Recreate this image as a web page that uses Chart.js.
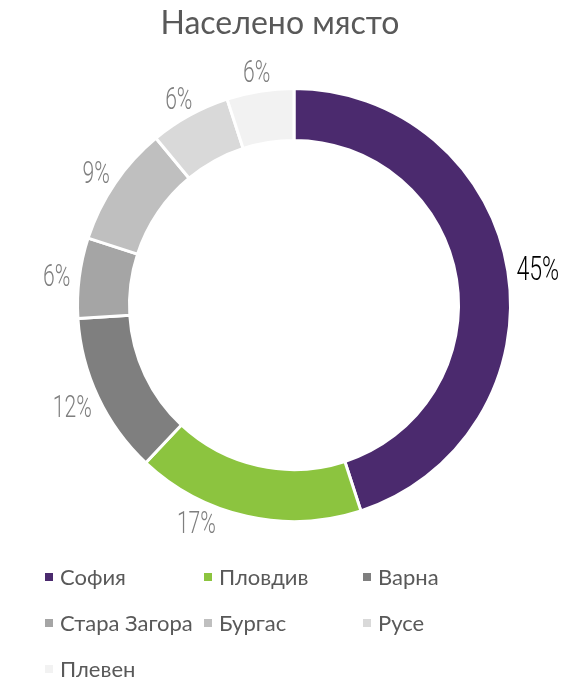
<!DOCTYPE html>
<html>
<head>
<meta charset="utf-8">
<script src="https://cdn.jsdelivr.net/npm/chart.js@4.4.0/dist/chart.umd.min.js"></script>
<style>
  html, body { margin: 0; padding: 0; background: #fff; }
  #wrap { width: 570px; height: 684px; }
</style>
</head>
<body>
<div id="wrap"><canvas id="chart"></canvas></div>
<script>
// data
const cities = ['София', 'Пловдив', 'Варна', 'Стара Загора', 'Бургас', 'Русе', 'Плевен'];
const shares = [45, 17, 12, 6, 9, 6, 5];
const pctLabels = ['45%', '17%', '12%', '6%', '9%', '6%', '6%'];
const colors = ['#4B2A6E', '#8CC43F', '#7F7F7F', '#A5A5A5', '#BFBFBF', '#D9D9D9', '#F2F2F2'];
const title = 'Населено място';

const textGrey = '#595959';
const SX = 0.68; // squeeze for the narrow percent labels

// title + legend drawn in a grid like the original
const frame = {
  id: 'frame',
  afterDraw(chart) {
    const ctx = chart.ctx;
    ctx.save();
    ctx.fillStyle = textGrey;
    ctx.font = '32px Lato';
    ctx.textAlign = 'center';
    ctx.textBaseline = 'alphabetic';
    ctx.fillText(title, 280, 34);

    ctx.font = '22px Lato';
    ctx.textAlign = 'left';
    cities.forEach((name, i) => {
      const col = i % 3, row = Math.floor(i / 3);
      const x = 45 + col * 159;
      const y = 577 + row * 46;
      ctx.fillStyle = colors[i];
      ctx.fillRect(x, y - 4, 8, 8);
      ctx.fillStyle = textGrey;
      ctx.fillText(name, x + 15, y + 8);
    });
    ctx.restore();
  }
};

// percent labels outside the ring; a label that would drop below the
// plot area slides round the ring until it fits (like Excel does)
const outLabels = {
  id: 'outLabels',
  afterDatasetsDraw(chart) {
    const ctx = chart.ctx;
    const meta = chart.getDatasetMeta(0);
    const limit = chart.chartArea.bottom + 10;
    meta.data.forEach((arc, i) => {
      const p = arc.getProps(['x', 'y', 'startAngle', 'endAngle', 'outerRadius'], true);
      const big = i === 0;
      const size = big ? 34 : 31;
      ctx.save();
      ctx.font = '300 ' + size + 'px Roboto';
      const w = ctx.measureText(pctLabels[i]).width * SX;
      const h = size * 0.71;
      const r = p.outerRadius + 9;
      let a = (p.startAngle + p.endAngle) / 2;
      const place = ang => {
        const dx = Math.cos(ang), dy = Math.sin(ang);
        return [p.x + dx * r + dx * w / 2, p.y + dy * r + dy * h / 2];
      };
      let pos = place(a);
      const step = Math.cos(a) < 0 ? 0.005 : -0.005;
      let n = 0;
      while (pos[1] + h / 2 > limit && n < 400) {
        a += step;
        pos = place(a);
        n++;
      }
      ctx.translate(pos[0], pos[1]);
      ctx.scale(SX, 1);
      ctx.fillStyle = big ? '#000000' : '#7F7F7F';
      ctx.textAlign = 'center';
      ctx.textBaseline = 'alphabetic';
      ctx.fillText(pctLabels[i], 0, h / 2);
      ctx.restore();
    });
  }
};

const ctx = document.getElementById('chart').getContext('2d');
const chart = new Chart(ctx, {
  type: 'doughnut',
  data: {
    labels: cities,
    datasets: [{
      data: shares,
      backgroundColor: colors,
      borderColor: '#ffffff',
      borderWidth: 3
    }]
  },
  options: {
    responsive: true,
    maintainAspectRatio: false,
    animation: false,
    cutout: '76%',
    layout: { padding: { left: 76, right: 58, top: 87, bottom: 161 } },
    plugins: {
      legend: { display: false },
      title: { display: false },
      tooltip: { enabled: false }
    }
  },
  plugins: [outLabels, frame]
});
</script>
</body>
</html>
